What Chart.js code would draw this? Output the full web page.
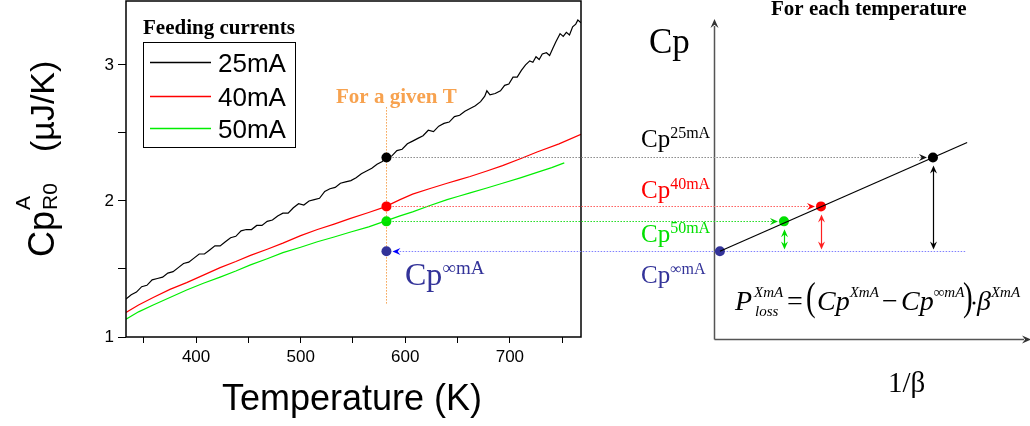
<!DOCTYPE html>
<html>
<head>
<meta charset="utf-8">
<script src="https://cdn.jsdelivr.net/npm/chart.js@4.4.1/dist/chart.umd.min.js"></script>
<style>
    html, body { margin: 0; padding: 0; background: #fff; }
    #wrap { position: relative; width: 1030px; height: 426px; }
    #wrap canvas { position: absolute; left: 0; top: 0; }
    #scheme { pointer-events: none; }
</style>
</head>
<body>
<div id="wrap">
    <canvas id="curves" width="1030" height="426"></canvas>
    <canvas id="scheme" width="1030" height="426"></canvas>
</div>
<script>
const SANS = '"Liberation Sans", Arial, sans-serif';
const SERIF = '"Liberation Serif", "Times New Roman", serif';

const CURRENTS = ['25mA', '40mA', '50mA'];
const LINE_COLORS = ['#000000', '#ff0000', '#00ee00'];
const DOT_COLORS = ['#000000', '#ff0000', '#00e000', '#333399'];

// Measured Cp(T) for each feeding current
const T_25 = [333,338,343,348,353,358,363,368,373,378,383,388,393,398,403,408,413,418,423,428,
    433,438,443,448,453,458,463,468,473,478,483,488,493,498,503,508,513,518,523,528,
    533,538,543,548,553,558,563,568,573,578,582,587,592,597,602,607,612,617,622,627,
    632,637,642,647,652,657,662,667,672,676,678,681,686,691,695,699,703,707,711,715,
    719,722,725,728,731,735,738,741,744,748,751,754,757,760,763,765,768];
const CP_25 = [1.28,1.31,1.33,1.37,1.38,1.42,1.43,1.44,1.47,1.48,1.51,1.54,1.55,1.58,1.61,1.61,1.64,1.67,1.67,1.70,
    1.73,1.74,1.78,1.79,1.79,1.82,1.82,1.85,1.86,1.89,1.91,1.91,1.95,1.98,1.97,2.00,2.01,2.02,2.07,2.09,
    2.10,2.13,2.14,2.15,2.17,2.20,2.22,2.24,2.27,2.29,2.32,2.33,2.37,2.38,2.42,2.44,2.46,2.48,2.52,2.51,
    2.55,2.57,2.58,2.62,2.63,2.66,2.68,2.70,2.73,2.77,2.81,2.78,2.79,2.81,2.85,2.86,2.91,2.91,2.96,3.00,
    3.03,3.02,3.06,3.04,3.08,3.09,3.07,3.12,3.17,3.23,3.21,3.24,3.22,3.28,3.30,3.33,3.31];

const T_40 = [333,345,359,375,391,407,423,438,452,468,483,500,516,532,547,565,580,595,607,623,
    640,651,662,678,693,710,726,747,768];
const CP_40 = [1.18,1.235,1.29,1.35,1.40,1.455,1.51,1.555,1.60,1.645,1.69,1.745,1.79,1.83,1.87,1.915,1.955,2.01,2.05,2.09,
    2.13,2.155,2.18,2.22,2.26,2.31,2.36,2.42,2.49];

const T_50 = [333,345,359,375,391,407,423,438,452,468,483,500,516,532,547,565,580,595,607,623,
    640,651,662,678,693,710,726,740,752];
const CP_50 = [1.13,1.185,1.235,1.29,1.345,1.395,1.44,1.485,1.53,1.575,1.62,1.66,1.70,1.735,1.77,1.81,1.85,1.89,1.92,1.965,
    2.01,2.035,2.06,2.095,2.13,2.17,2.21,2.245,2.28];

// Values picked at one temperature: 25mA, 40mA, 50mA, extrapolated infinite current
const GIVEN_T = 582;
const CP_AT_T = [2.32, 1.96, 1.85, 1.63];
const GUIDE_CP = [1.235, 2.69];

// Schematic Cp vs 1/beta (arbitrary 0-100 units on the abscissa)
const INV_BETA = [70.4, 34.4, 22.5, 1.9];
const FIT_X = [1.9, 81.4];
const FIT_Y = [1.63, 2.43];

const X_MIN = 333, X_MAX = 768;
const Y_MIN = 1, Y_MAX = 3.47;

function toPoints(xs, ys) {
    return xs.map((x, i) => ({x, y: ys[i]}));
}

function arrowHead(ctx, x, y, angle, color, len = 8, half = 3.5) {
    ctx.save();
    ctx.translate(x, y);
    ctx.rotate(angle);
    ctx.fillStyle = color;
    ctx.beginPath();
    ctx.moveTo(0, 0);
    ctx.lineTo(-len, -half);
    ctx.lineTo(-len * 0.65, 0);
    ctx.lineTo(-len, half);
    ctx.closePath();
    ctx.fill();
    ctx.restore();
}

function segment(ctx, x1, y1, x2, y2) {
    ctx.beginPath();
    ctx.moveTo(x1, y1);
    ctx.lineTo(x2, y2);
    ctx.stroke();
}

// "Cp" + superscript, returns the x where the text ends
function supText(ctx, x, y, main, sup, size, supSize, color, rise, italic = false) {
    const style = italic ? 'italic ' : '';
    ctx.fillStyle = color;
    ctx.font = `${style}${size}px ${SERIF}`;
    ctx.fillText(main, x, y);
    const w = ctx.measureText(main).width;
    ctx.font = `${style}${supSize}px ${SERIF}`;
    ctx.fillText(sup, x + w, y - rise);
    return x + w + ctx.measureText(sup).width;
}

// keep the plot box fixed: no extra room for half tick labels
function noScalePadding(s) {
    s.paddingTop = 0;
    s.paddingBottom = 0;
    s.paddingLeft = 0;
    s.paddingRight = 0;
}


//////////////////////////////
//      Left: Cp(T) plot    //
//////////////////////////////
const curvesDecor = {
    id: 'curvesDecor',
    beforeDatasetsDraw(chart) {
        const ctx = chart.ctx;
        const xs = chart.scales.x, ys = chart.scales.y;
        // vertical guide at the chosen temperature
        const gx = Math.round(xs.getPixelForValue(GIVEN_T)) + 0.5;
        ctx.save();
        ctx.strokeStyle = '#f7a24f';
        ctx.lineWidth = 1;
        ctx.setLineDash([1.5, 1.5]);
        segment(ctx, gx, ys.getPixelForValue(GUIDE_CP[1]), gx, ys.getPixelForValue(GUIDE_CP[0]));
        ctx.restore();
    },
    afterDraw(chart) {
        const ctx = chart.ctx, ca = chart.chartArea;
        ctx.save();
        // frame
        ctx.strokeStyle = '#000';
        ctx.lineWidth = 1.5;
        ctx.strokeRect(ca.left, ca.top, ca.right - ca.left, ca.bottom - ca.top);

        // legend
        ctx.font = `bold 21px ${SERIF}`;
        ctx.fillStyle = '#000';
        ctx.textBaseline = 'alphabetic';
        ctx.fillText('Feeding currents', 143, 34);
        ctx.lineWidth = 1;
        ctx.strokeRect(143.5, 42.5, 152, 105);
        const rows = [62, 96, 128];
        ctx.font = `26px ${SANS}`;
        CURRENTS.forEach((c, i) => {
            ctx.strokeStyle = LINE_COLORS[i];
            ctx.lineWidth = 1.3;
            segment(ctx, 150, rows[i] + 0.5, 211, rows[i] + 0.5);
            ctx.fillStyle = '#000';
            ctx.fillText(c, 218, rows[i] + 10);
        });

        // annotations
        ctx.font = `bold 21px ${SERIF}`;
        ctx.fillStyle = '#f7a24f';
        ctx.fillText('For a given T', 336, 103);
        supText(ctx, 405, 285, 'Cp', '\u221EmA', 32, 19, '#333399', 11);

        // axis titles
        ctx.fillStyle = '#000';
        ctx.font = `36px ${SANS}`;
        ctx.textAlign = 'center';
        ctx.fillText('Temperature (K)', 352, 410);
        ctx.textAlign = 'left';

        ctx.translate(54, 257);
        ctx.rotate(-Math.PI / 2);
        ctx.font = `36px ${SANS}`;
        ctx.fillText('Cp', 0, 0);
        const w = ctx.measureText('Cp').width;
        ctx.font = `21px ${SANS}`;
        ctx.fillText('A', w + 1, -24);
        ctx.fillText('R0', w + 1, 3);
        ctx.font = `34px ${SANS}`;
        ctx.fillText('(\u00B5J/K)', 105, 0);
        ctx.restore();
    }
};

const curveSets = [[T_25, CP_25], [T_40, CP_40], [T_50, CP_50]].map(([t, cp], i) => ({
    label: CURRENTS[i],
    data: toPoints(t, cp),
    borderColor: LINE_COLORS[i],
    borderWidth: 1.2,
    pointRadius: 0,
    tension: 0
}));

const leftChart = new Chart(document.getElementById('curves'), {
    type: 'line',
    data: {
        datasets: [
            ...curveSets,
            {
                type: 'scatter',
                label: 'given T',
                data: CP_AT_T.map((v) => ({x: GIVEN_T, y: v})),
                pointRadius: 5,
                pointBorderWidth: 0,
                pointBackgroundColor: DOT_COLORS
            }
        ]
    },
    options: {
        responsive: false,
        animation: false,
        layout: {autoPadding: false, padding: {left: 0, top: 1, right: 449, bottom: 0}},
        plugins: {legend: {display: false}, tooltip: {enabled: false}},
        scales: {
            x: {
                type: 'linear',
                min: X_MIN,
                max: X_MAX,
                afterFit: (s) => { s.height = 89; noScalePadding(s); },
                border: {display: false},
                grid: {drawOnChartArea: false, tickLength: 6, color: '#000'},
                ticks: {
                    stepSize: 50,
                    includeBounds: false,
                    autoSkip: false,
                    maxRotation: 0,
                    padding: 4,
                    color: '#000',
                    font: {family: SANS, size: 17},
                    callback: (v) => (v % 100 === 0 ? v : '')
                }
            },
            y: {
                type: 'linear',
                min: Y_MIN,
                max: Y_MAX,
                afterFit: (s) => { s.width = 126; noScalePadding(s); },
                border: {display: false},
                grid: {drawOnChartArea: false, tickLength: 8, color: '#000'},
                ticks: {
                    stepSize: 0.5,
                    includeBounds: false,
                    padding: 4,
                    color: '#000',
                    font: {family: SANS, size: 17},
                    callback: (v) => (Number.isInteger(v) ? v : '')
                }
            }
        }
    },
    plugins: [curvesDecor]
});


//////////////////////////////
//    Right: Cp vs 1/beta   //
//////////////////////////////
const schemeDecor = {
    id: 'schemeDecor',
    beforeDatasetsDraw(chart) {
        const ctx = chart.ctx, ca = chart.chartArea;
        const xs = chart.scales.x, ys = chart.scales.y;
        const lx = leftChart.scales.x.getPixelForValue(GIVEN_T);
        ctx.save();

        // axes with arrows
        const ox = Math.round(ca.left) + 0.5, oy = Math.round(ca.bottom) + 2.5;
        ctx.strokeStyle = '#555';
        ctx.lineWidth = 1.5;
        segment(ctx, ox, oy, ox, 26);
        arrowHead(ctx, ox, 19, -Math.PI / 2, '#333', 9, 4);
        segment(ctx, ox, oy, 1024, oy);
        arrowHead(ctx, 1031, oy, 0, '#333', 9, 4);

        // dotted links from the T cut to the schematic
        const linkColors = ['#8a8a8a', '#ff5c5c', '#22dd22'];
        const headColors = ['#111', '#ff0000', '#00cc00'];
        ctx.lineWidth = 1.2;
        for (let i = 0; i < 3; i++) {
            const y = Math.round(ys.getPixelForValue(CP_AT_T[i])) + 0.5;
            const xr = xs.getPixelForValue(INV_BETA[i]) - 6;
            ctx.strokeStyle = linkColors[i];
            ctx.setLineDash([1.5, 1.5]);
            segment(ctx, lx + 6, y, xr - 5, y);
            ctx.setLineDash([]);
            arrowHead(ctx, xr, y, 0, headColors[i], 8, 3.5);
        }
        const yInf = Math.round(ys.getPixelForValue(CP_AT_T[3])) + 0.5;
        ctx.strokeStyle = '#8080ff';
        ctx.setLineDash([1.5, 1.5]);
        segment(ctx, xs.getPixelForValue(FIT_X[1]) - 2, yInf, lx + 11, yInf);
        ctx.setLineDash([]);
        arrowHead(ctx, lx + 6, yInf, Math.PI, '#0000ff', 8, 3.5);

        // double arrows: Cp(X) - Cp(inf)
        const vColors = ['#000', '#ff2020', '#00dd00'];
        ctx.lineWidth = 1.2;
        for (let i = 0; i < 3; i++) {
            const x = Math.round(xs.getPixelForValue(INV_BETA[i])) + 0.5;
            const top = ys.getPixelForValue(CP_AT_T[i]) + 8;
            const bottom = yInf - 2;
            ctx.strokeStyle = vColors[i];
            segment(ctx, x, top + 4, x, bottom - 4);
            arrowHead(ctx, x, top, -Math.PI / 2, vColors[i], 8, 3.5);
            arrowHead(ctx, x, bottom, Math.PI / 2, vColors[i], 8, 3.5);
        }
        ctx.restore();
    },
    afterDraw(chart) {
        const ctx = chart.ctx;
        ctx.save();
        ctx.textBaseline = 'alphabetic';

        ctx.fillStyle = '#000';
        ctx.font = `35px ${SERIF}`;
        ctx.fillText('Cp', 649, 53);
        ctx.font = `bold 21px ${SERIF}`;
        ctx.fillText('For each temperature', 771, 15);
        ctx.font = `29px ${SERIF}`;
        ctx.fillText('1/\u03B2', 888, 392);

        const labels = [['25mA', 147], ['40mA', 198], ['50mA', 242], ['\u221EmA', 283]];
        const labelColors = ['#000', '#ff0000', '#00e000', '#333399'];
        labels.forEach(([sup, y], i) => supText(ctx, 641, y, 'Cp', sup, 25, 16, labelColors[i], 9));

        // P_loss formula
        const base = 310;
        ctx.fillStyle = '#000';
        ctx.font = `italic 28px ${SERIF}`;
        ctx.fillText('P', 735, base);
        ctx.font = `italic 15px ${SERIF}`;
        ctx.fillText('XmA', 754, base - 13);
        ctx.fillText('loss', 755, base + 6);
        ctx.font = `28px ${SERIF}`;
        ctx.fillText('=', 787, base);
        ctx.save();
        ctx.translate(0, base);
        ctx.scale(1, 1.35);
        ctx.font = `29px ${SERIF}`;
        ctx.fillText('(', 806, 0);
        ctx.fillText(')', 963, 0);
        ctx.restore();
        supText(ctx, 817, base, 'Cp', 'XmA', 28, 15, '#000', 13, true);
        ctx.font = `28px ${SERIF}`;
        ctx.fillText('\u2212', 882, base);
        supText(ctx, 901, base, 'Cp', '\u221EmA', 28, 15, '#000', 13, true);
        ctx.beginPath();
        ctx.arc(974, base - 7, 1.5, 0, Math.PI * 2);
        ctx.fill();
        supText(ctx, 977, base, '\u03B2', 'XmA', 28, 15, '#000', 13, true);
        ctx.restore();
    }
};

const rightChart = new Chart(document.getElementById('scheme'), {
    type: 'scatter',
    data: {
        datasets: [
            {
                label: 'linear fit',
                data: toPoints(FIT_X, FIT_Y),
                showLine: true,
                borderColor: '#000',
                borderWidth: 1.2,
                pointRadius: 0
            },
            {
                label: 'Cp at T',
                data: toPoints(INV_BETA, CP_AT_T),
                pointRadius: 5,
                pointBorderWidth: 0,
                pointBackgroundColor: DOT_COLORS
            }
        ]
    },
    options: {
        responsive: false,
        animation: false,
        layout: {autoPadding: false, padding: {left: 714, top: 1, right: 5, bottom: 89}},
        plugins: {legend: {display: false}, tooltip: {enabled: false}},
        scales: {
            x: {type: 'linear', min: 0, max: 100, display: false},
            y: {type: 'linear', min: Y_MIN, max: Y_MAX, display: false}
        }
    },
    plugins: [schemeDecor]
});
</script>
</body>
</html>
